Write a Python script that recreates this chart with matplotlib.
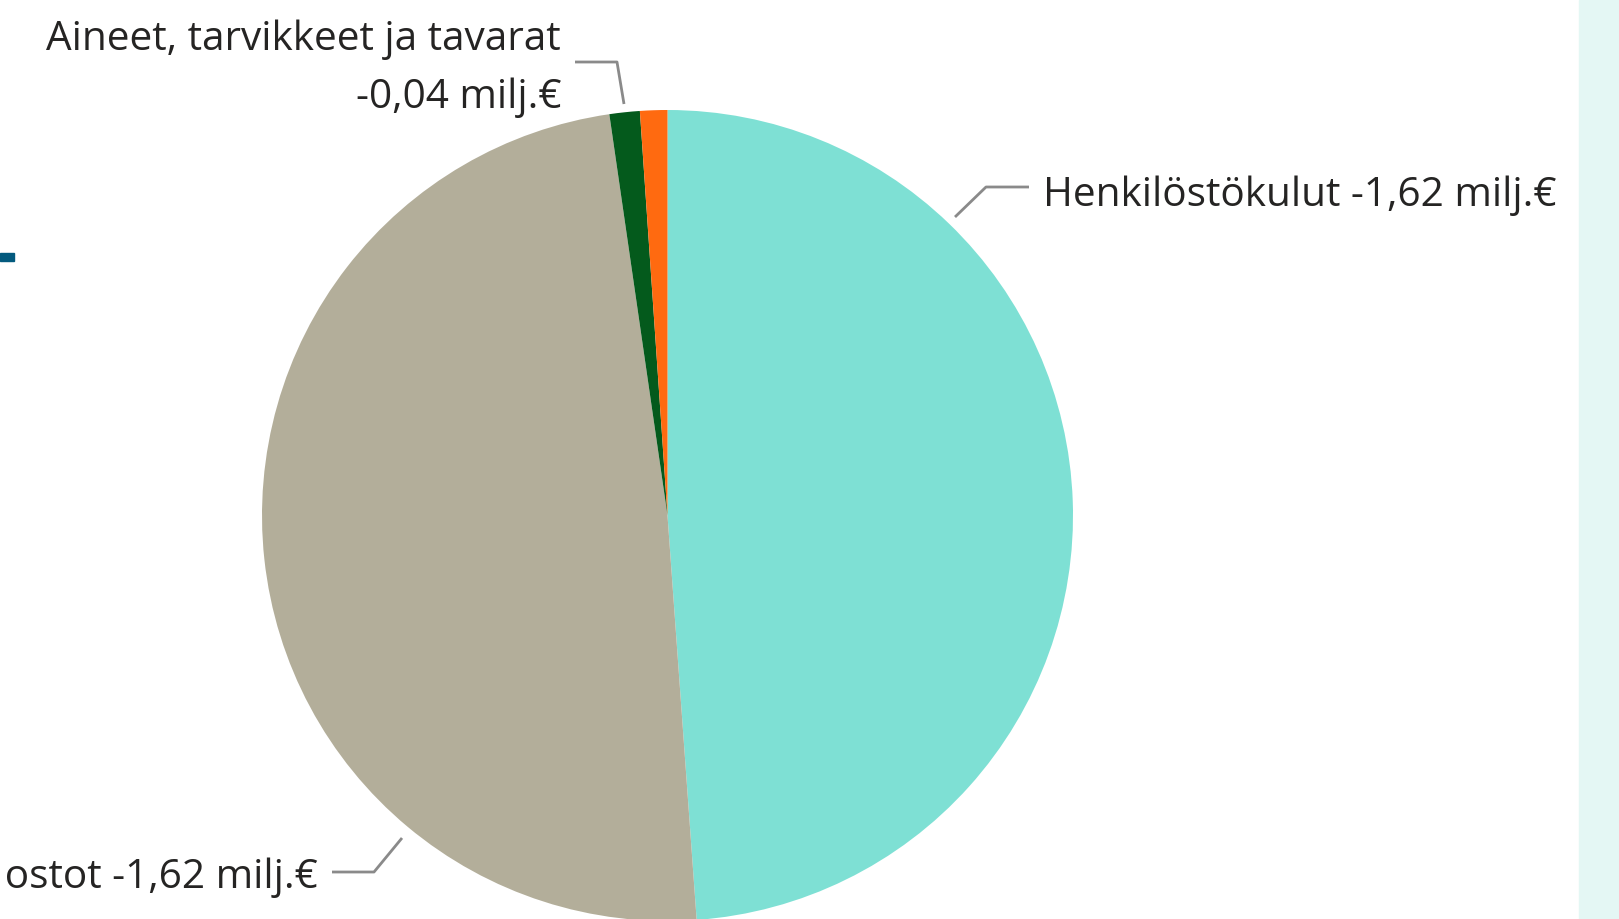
import matplotlib
matplotlib.use("Agg")
import matplotlib.pyplot as plt
from matplotlib.patches import Rectangle

# ---- data ----
categories = ["Henkilöstökulut", "Palvelujen ostot", "Aineet, tarvikkeet ja tavarat", "Muut kulut"]
values = [1.62, 1.62, 0.040, 0.036]
colors = ["#7EE0D4", "#B3AE9A", "#045A1C", "#FF6A10"]
label_texts = ["Henkilöstökulut -1,62 milj.€",
               "Palvelujen ostot -1,62 milj.€",
               "Aineet, tarvikkeet ja tavarat\n-0,04 milj.€"]

W, H = 1619, 919
fig = plt.figure(figsize=(W / 100, H / 100), dpi=100)
ax = fig.add_axes([0, 0, 1, 1])


def Y(y):
    return H - y


cx, cy, r = 667.5, Y(515.5), 405.5
ax.pie(values, colors=colors, startangle=90, counterclock=False,
       center=(cx, cy), radius=r, wedgeprops=dict(linewidth=0),
       frame=True)
ax.set_xlim(0, W)
ax.set_ylim(0, H)
ax.set_aspect("equal")
ax.axis("off")

# right side panel
ax.add_patch(Rectangle((1579, 0), W - 1579, H, color="#E4F7F4", zorder=0))
# small dark bar at left
ax.add_patch(Rectangle((0, Y(261)), 14, 8, color="#035A7E", zorder=3))

font = "Open Sans"
fs = 29.2
tc = "#252423"
lc = "#8a8a8a"
lw = 2.0

# Henkilöstökulut
ax.plot([955, 986, 1029], [Y(217), Y(187), Y(187)], color=lc, lw=lw, solid_capstyle="butt")
ax.text(1043, Y(206), label_texts[0], ha="left", va="baseline", fontsize=fs,
        family=font, color=tc)

# Palvelujen ostot
ax.plot([332, 374, 402], [Y(872), Y(872), Y(838)], color=lc, lw=lw, solid_capstyle="butt")
ax.text(318, Y(888), label_texts[1], ha="right", va="baseline", fontsize=fs,
        family=font, color=tc)

# Aineet
ax.plot([575, 617, 624], [Y(62), Y(62), Y(104)], color=lc, lw=lw, solid_capstyle="butt")
l1, l2 = label_texts[2].split("\n")
ax.text(561, Y(50), l1, ha="right", va="baseline", fontsize=fs, family=font, color=tc)
ax.text(561, Y(108), l2, ha="right", va="baseline", fontsize=fs, family=font, color=tc)

fig.savefig("out.png", dpi=100, facecolor="white")
